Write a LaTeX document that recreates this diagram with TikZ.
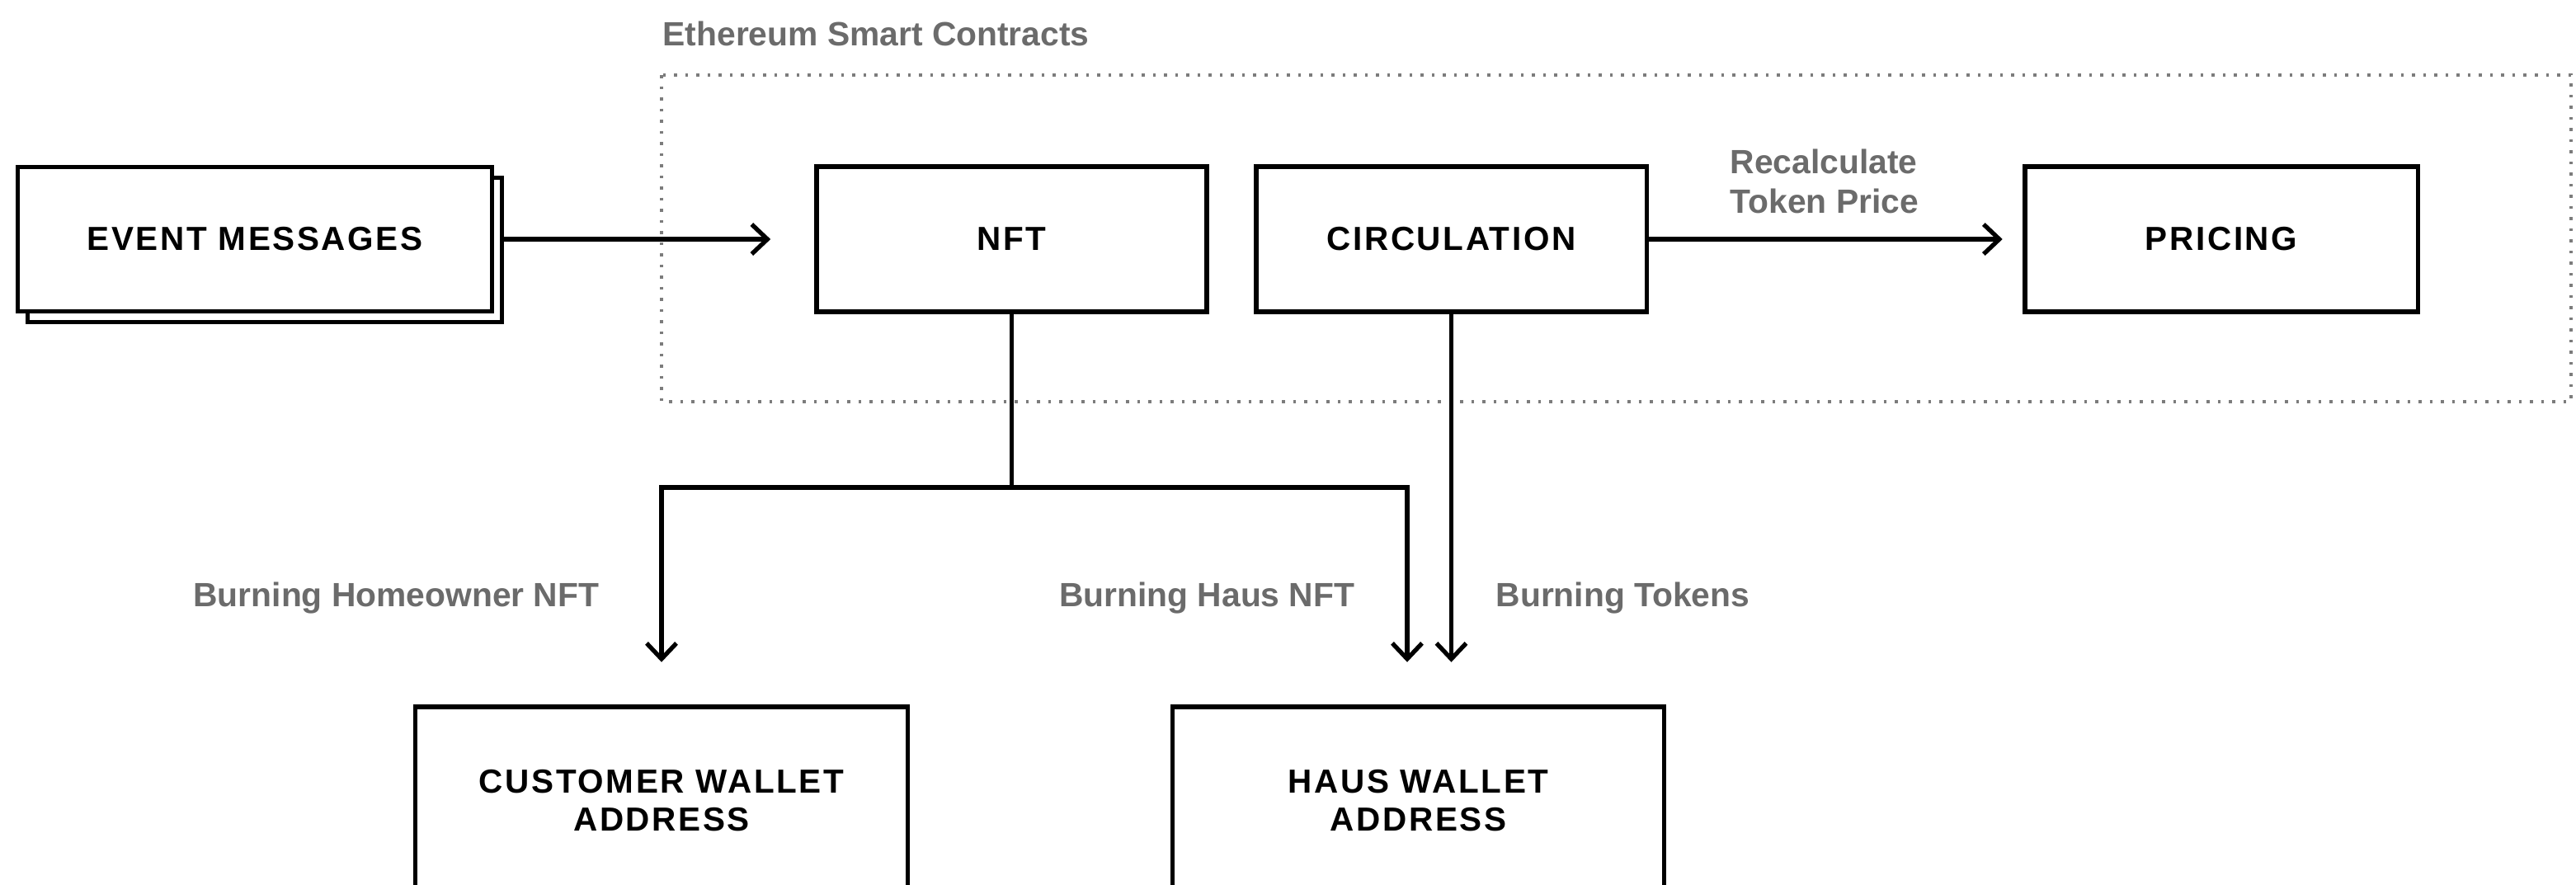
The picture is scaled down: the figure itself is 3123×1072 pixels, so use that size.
\documentclass[tikz,border=0pt]{standalone}
\usepackage{fontspec}
\setmainfont{Liberation Sans}
\newfontfamily\boxfont[LetterSpace=6.5]{Liberation Sans}
\usetikzlibrary{arrows.meta}
\definecolor{labelgray}{HTML}{6B6B6B}
\definecolor{framegray}{HTML}{7C7C7C}
\tikzset{
  stage/.style={draw=black, fill=white, line width=0.053cm, minimum width=4.73cm,
    minimum height=1.76cm, inner sep=0pt, align=center,
    font=\boxfont\bfseries\fontsize{11.5pt}{13.1pt}\selectfont},
  wallet/.style={stage, minimum width=5.96cm, minimum height=2.27cm},
  flow/.style={line width=0.053cm, -{Straight Barb[length=0.19cm,width=0.36cm]}},
  link/.style={line width=0.053cm},
  note/.style={text=labelgray, inner sep=0pt,
    font=\bfseries\fontsize{11.6pt}{13.65pt}\selectfont},
  frame/.style={draw=framegray, line width=0.045cm, dash pattern=on 0.035cm off 0.1cm}
}
\begin{document}
\begin{tikzpicture}[x=0.01cm, y=-0.01cm]
\useasboundingbox (0,0) rectangle (3123,1072);
\clip (0,0) rectangle (3123,1072);

% smart contract frame
\draw[frame] (802,91) rectangle (3117,487);
\node[note, anchor=base west] (frametitle) at (803,55) {Ethereum Smart Contracts};

% stacked event box
\node[stage, minimum width=5.75cm, minimum height=1.75cm] (evback) at (321,303) {};
\node[stage, minimum width=5.75cm, minimum height=1.75cm] (events) at (309,290) {EVENT MESSAGES};

% contract boxes
\node[stage] (nft) at (1226.5,290) {NFT};
\node[stage] (circ) at (1759.5,290) {CIRCULATION};
\node[stage, minimum width=4.76cm] (pricing) at (2693,290) {PRICING};

% wallets
\node[wallet] (cust) at (802,970.5) {CUSTOMER WALLET\\ADDRESS};
\node[wallet] (haus) at (1719.5,970.5) {HAUS WALLET\\ADDRESS};

% horizontal flows
\draw[flow, shorten >=0.53cm] (evback.east |- events.east) -- (nft.west);
\draw[flow, shorten >=0.245cm] (circ.east) -- (pricing.west);
\node[note, anchor=north west, align=left] (recalc) at (2097,180) {Recalculate\\Token Price};

% burning flows
\coordinate (split) at (nft.south |- 0,591);
\draw[link] (nft.south) -- (split);
\draw[flow, shorten >=0.515cm] (split) -| (cust.north);
\draw[flow, shorten >=0.515cm] (split) -| ([xshift=-0.135cm]haus.north);
\draw[flow, shorten >=0.515cm] (circ.south) -- (circ.south |- haus.north);

\node[note, anchor=base east] (lblhome) at (727,735) {Burning Homeowner NFT};
\node[note, anchor=base east] (lblhaus) at (1643,735) {Burning Haus NFT};
\node[note, anchor=base west] (lbltok) at (1813,735) {Burning Tokens};
\end{tikzpicture}
\end{document}
